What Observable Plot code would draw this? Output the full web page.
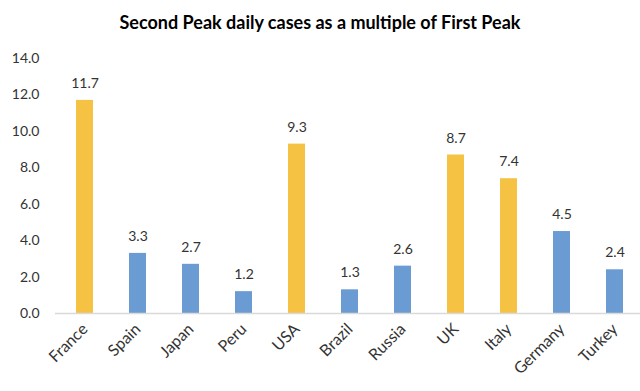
<!DOCTYPE html>
<html>
<head>
<meta charset="utf-8">
<script src="https://cdn.jsdelivr.net/npm/d3@7"></script>
<script src="https://cdn.jsdelivr.net/npm/@observablehq/plot@0.6"></script>
<style>
  html, body { margin: 0; padding: 0; background: #fff; width: 640px; height: 391px; overflow: hidden; }
  #title { height: 45px; line-height: 45px; text-align: center; font-family: Lato, "Open Sans", sans-serif; font-weight: bold; font-size: 18px; color: #000; }
  #chart svg { display: block; overflow: visible; }
</style>
</head>
<body>
<div id="title">Second Peak daily cases as a multiple of First Peak</div>
<div id="chart"></div>
<script>
const countries = ["France", "Spain", "Japan", "Peru", "USA", "Brazil", "Russia", "UK", "Italy", "Germany", "Turkey"];
const multiples = [11.7, 3.3, 2.7, 1.2, 9.3, 1.3, 2.6, 8.7, 7.4, 4.5, 2.4];
const groups = ["high", "low", "low", "low", "high", "low", "low", "high", "high", "low", "low"];
const yTicks = [0, 2, 4, 6, 8, 10, 12, 14];

const data = countries.map((c, i) => ({country: c, value: multiples[i], group: groups[i]}));

const chart = Plot.plot({
  width: 640,
  height: 346,
  marginLeft: 55,
  marginRight: -3,
  marginTop: 13,
  marginBottom: 78,
  style: {fontFamily: "Lato, 'Open Sans', sans-serif", fontSize: "14px", color: "#333", background: "#fff"},
  x: {domain: countries, paddingInner: 0.68, paddingOuter: 0.34, label: null},
  y: {domain: [0, 14], label: null},
  color: {domain: ["high", "low"], range: ["#F5C243", "#6A9CD3"]},
  marks: [
    Plot.axisX({tickSize: 0, tickRotate: -45, tickPadding: 13, fontSize: 16, label: null}),
    Plot.axisY(yTicks, {tickSize: 0, tickPadding: 16, tickFormat: d3.format(".1f"), fontSize: 14, label: null}),
    Plot.barY(data, {x: "country", y: "value", fill: "group"}),
    Plot.ruleY([0], {stroke: "#d9d9d9", strokeWidth: 1.5}),
    Plot.text(data, {x: "country", y: "value", text: d => d.value.toFixed(1), dy: -17, fill: "#333", fontSize: 14})
  ]
});
document.getElementById("chart").appendChild(chart);
</script>
</body>
</html>
